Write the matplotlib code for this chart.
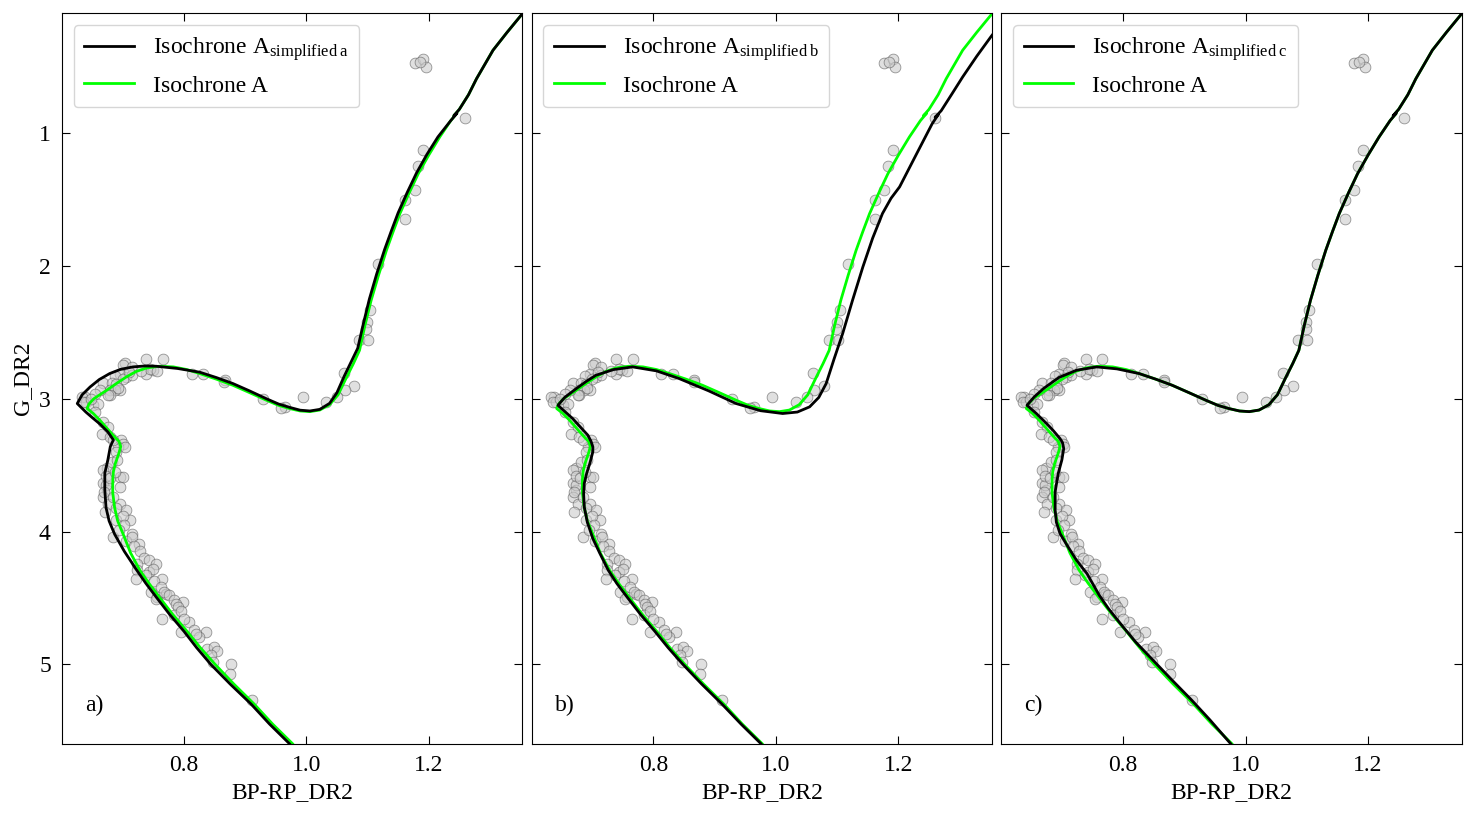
import matplotlib
matplotlib.use("Agg")
import matplotlib.pyplot as plt

plt.rcParams['font.family'] = ['Liberation Serif', 'DejaVu Serif']
plt.rcParams['mathtext.fontset'] = 'custom'
plt.rcParams['mathtext.rm'] = 'Liberation Serif'
plt.rcParams['mathtext.it'] = 'Liberation Serif:italic'
plt.rcParams['font.size'] = 17

# observed stars (BP-RP, G)
star_color = [
    1.177, 1.191, 1.195, 1.185, 1.259, 1.191, 1.183, 1.177, 1.162, 1.162,
    1.117, 1.104, 1.099, 1.098, 1.086, 1.101, 1.061, 1.078, 1.063, 1.050,
    1.033, 0.994, 0.965, 0.958, 0.929, 0.867, 0.866, 0.832, 0.813, 0.766,
    0.739, 0.739, 0.749, 0.704, 0.701, 0.715, 0.706, 0.715, 0.744, 0.730,
    0.757,
    0.696, 0.688, 0.700, 0.710, 0.668, 0.682, 0.690, 0.696, 0.679, 0.687,
    0.692, 0.679, 0.676, 0.663, 0.655, 0.638, 0.633, 0.641, 0.636, 0.652,
    0.660, 0.655, 0.648, 0.668, 0.676, 0.666, 0.679, 0.698, 0.701, 0.693,
    0.704, 0.685, 0.690,
    0.674, 0.668, 0.682, 0.691, 0.696, 0.701, 0.668, 0.674, 0.696, 0.668,
    0.676, 0.696, 0.671, 0.706, 0.690, 0.712, 0.685, 0.715, 0.673, 0.670,
    0.673, 0.680, 0.688, 0.685, 0.690, 0.700, 0.703, 0.694, 0.705, 0.716,
    0.727, 0.718, 0.728, 0.735,
    0.743, 0.754, 0.724, 0.743, 0.750, 0.724, 0.738, 0.722, 0.765, 0.752,
    0.746, 0.762, 0.771, 0.757, 0.754, 0.768, 0.776, 0.784, 0.798, 0.787,
    0.790, 0.765, 0.784, 0.795, 0.809, 0.800, 0.795, 0.817, 0.836, 0.825,
    0.820, 0.838, 0.849, 0.854, 0.844, 0.847, 0.877, 0.876, 0.912,
]
star_mag = [
    0.470, 0.444, 0.500, 0.462, 0.889, 1.123, 1.249, 1.429, 1.505, 1.643,
    1.982, 2.333, 2.421, 2.471, 2.559, 2.554, 2.805, 2.906, 2.936, 2.986,
    3.024, 2.986, 3.061, 3.066, 2.999, 2.861, 2.875, 2.810, 2.810, 2.697,
    2.697, 2.810, 2.785, 2.730, 2.748, 2.760, 2.836, 2.823, 2.773, 2.790,
    2.790,
    2.810, 2.830, 2.850, 2.800, 2.880, 2.882, 2.886, 2.936, 2.936, 2.936,
    2.920, 2.974, 2.974, 2.936, 2.961, 2.986, 2.990, 3.024, 3.024, 3.049,
    3.036, 3.099, 3.000, 3.175, 3.212, 3.262, 3.288, 3.312, 3.337, 3.363,
    3.363, 3.312, 3.400,
    3.525, 3.539, 3.475, 3.460, 3.589, 3.589, 3.638, 3.689, 3.663, 3.739,
    3.789, 3.789, 3.852, 3.840, 3.915, 3.915, 4.041, 4.016, 3.652, 3.700,
    3.580, 3.600, 3.550, 3.740, 3.820, 3.880, 3.950, 3.990, 4.070, 4.041,
    4.091, 4.110, 4.150, 4.200,
    4.217, 4.241, 4.241, 4.304, 4.280, 4.292, 4.330, 4.355, 4.355, 4.370,
    4.455, 4.417, 4.467, 4.492, 4.505, 4.455, 4.480, 4.518, 4.530, 4.543,
    4.568, 4.656, 4.630, 4.600, 4.681, 4.660, 4.756, 4.743, 4.756, 4.794,
    4.770, 4.882, 4.869, 4.900, 4.932, 4.982, 5.000, 5.075, 5.271,
]

# Isochrone A (same in every panel)
iso_color = [0.985, 0.978, 0.945, 0.915, 0.882, 0.851, 0.827, 0.805, 0.782,
             0.761, 0.743, 0.728, 0.713, 0.701, 0.692, 0.687, 0.684, 0.684,
             0.685, 0.688, 0.694, 0.697, 0.694, 0.687, 0.675, 0.663, 0.652,
             0.642, 0.645, 0.653, 0.674, 0.690, 0.706, 0.722, 0.739, 0.760,
             0.783, 0.805, 0.826, 0.853, 0.880, 0.908, 0.935, 0.955, 0.973,
             0.990, 1.006, 1.022, 1.038, 1.052, 1.066, 1.077, 1.087, 1.096,
             1.106, 1.118, 1.131, 1.142, 1.153, 1.168, 1.183, 1.200, 1.218,
             1.236, 1.246, 1.241, 1.250, 1.265, 1.278, 1.305, 1.328, 1.351,
             1.360]
iso_mag = [5.65, 5.60, 5.45, 5.30, 5.15, 5.00, 4.875, 4.75, 4.625,
           4.50, 4.39, 4.29, 4.16, 4.02, 3.92, 3.82, 3.71, 3.61,
           3.55, 3.49, 3.41, 3.36, 3.32, 3.288, 3.225, 3.162, 3.11,
           3.074, 3.04, 3.00, 2.936, 2.885, 2.836, 2.795, 2.768, 2.755,
           2.760, 2.780, 2.810, 2.852, 2.898, 2.955, 3.011, 3.05, 3.074,
           3.092, 3.097, 3.085, 3.045, 2.970, 2.836, 2.735, 2.635, 2.445,
           2.258, 2.07, 1.881, 1.74, 1.605, 1.45, 1.304, 1.165, 1.028,
           0.905, 0.850, 0.868, 0.820, 0.71, 0.59, 0.375, 0.24, 0.111,
           0.050]

# simplified isochrones
simp_a_color = [0.980, 0.973, 0.940, 0.910, 0.876, 0.844, 0.821, 0.800, 0.777,
                0.756, 0.738, 0.723, 0.703, 0.687, 0.678, 0.673, 0.671, 0.671,
                0.674, 0.676, 0.680, 0.685, 0.676, 0.663, 0.650, 0.640, 0.626,
                0.634, 0.647, 0.662, 0.679, 0.697, 0.717, 0.736, 0.755, 0.790,
                0.826, 0.853, 0.880, 0.908, 0.935, 0.955, 0.973, 0.990, 1.006,
                1.022, 1.038, 1.050, 1.062, 1.073, 1.084, 1.093, 1.103, 1.115,
                1.128, 1.139, 1.150, 1.165, 1.180, 1.197, 1.215, 1.236, 1.246,
                1.241, 1.250, 1.265, 1.278, 1.305, 1.328, 1.351, 1.360]
simp_a_mag = [5.65, 5.60, 5.45, 5.30, 5.15, 5.00, 4.875, 4.75, 4.625,
              4.50, 4.39, 4.29, 4.15, 4.02, 3.92, 3.82, 3.69, 3.56,
              3.50, 3.46, 3.36, 3.31, 3.25, 3.19, 3.14, 3.10, 3.036,
              2.97, 2.911, 2.855, 2.810, 2.778, 2.760, 2.753, 2.755, 2.772,
              2.800, 2.840, 2.885, 2.942, 3.000, 3.040, 3.065, 3.086, 3.092,
              3.080, 3.035, 2.955, 2.830, 2.725, 2.620, 2.440, 2.250, 2.060,
              1.875, 1.735, 1.600, 1.445, 1.300, 1.160, 1.028, 0.905, 0.850,
              0.868, 0.820, 0.710, 0.590, 0.375, 0.240, 0.111, 0.050]

simp_b_color = [0.983, 0.976, 0.943, 0.912, 0.879, 0.848, 0.824, 0.802, 0.779,
                0.758, 0.740, 0.726, 0.712, 0.701, 0.692, 0.687, 0.686, 0.687,
                0.691, 0.696, 0.701, 0.701, 0.698, 0.693, 0.680, 0.668, 0.655,
                0.644, 0.655, 0.672, 0.690, 0.706, 0.735, 0.766, 0.805, 0.842,
                0.890, 0.935, 0.975, 1.011, 1.035, 1.055, 1.070, 1.082, 1.095,
                1.109, 1.125, 1.142, 1.158, 1.174, 1.188, 1.202, 1.230, 1.255,
                1.265, 1.260, 1.270, 1.288, 1.305, 1.328, 1.351, 1.360]
simp_b_mag = [5.65, 5.60, 5.45, 5.30, 5.15, 5.00, 4.875, 4.75, 4.625,
              4.50, 4.39, 4.29, 4.16, 4.053, 3.93, 3.815, 3.72, 3.638,
              3.56, 3.488, 3.40, 3.363, 3.32, 3.275, 3.21, 3.149, 3.095,
              3.049, 2.99, 2.93, 2.87, 2.823, 2.780, 2.760, 2.790, 2.848,
              2.940, 3.036, 3.090, 3.111, 3.100, 3.061, 2.990, 2.886, 2.700,
              2.509, 2.260, 2.007, 1.790, 1.605, 1.490, 1.404, 1.153, 0.930,
              0.860, 0.880, 0.830, 0.700, 0.576, 0.420, 0.274, 0.220]

simp_c_color = [0.983, 0.976, 0.942, 0.912, 0.878, 0.849, 0.820, 0.795, 0.776,
                0.761, 0.741, 0.724, 0.708, 0.697, 0.691, 0.689, 0.689, 0.694,
                0.700, 0.703, 0.701, 0.697, 0.686, 0.675, 0.658, 0.643, 0.655,
                0.670, 0.695, 0.724, 0.757, 0.790, 0.826, 0.853, 0.880, 0.908,
                0.935, 0.955, 0.973, 0.990, 1.006, 1.022, 1.038, 1.052, 1.066,
                1.077, 1.087, 1.096, 1.106, 1.118, 1.131, 1.142, 1.153, 1.168,
                1.183, 1.200, 1.218, 1.236, 1.246, 1.241, 1.250, 1.265, 1.278,
                1.305, 1.328, 1.351, 1.360]
simp_c_mag = [5.65, 5.60, 5.42, 5.27, 5.11, 4.97, 4.83, 4.69, 4.58,
              4.48, 4.317, 4.217, 4.10, 4.016, 3.93, 3.840, 3.70, 3.563,
              3.46, 3.375, 3.33, 3.300, 3.24, 3.187, 3.11, 3.049, 2.985,
              2.923, 2.840, 2.785, 2.760, 2.775, 2.810, 2.852, 2.898, 2.955,
              3.011, 3.050, 3.074, 3.092, 3.097, 3.085, 3.045, 2.970, 2.836,
              2.735, 2.635, 2.445, 2.258, 2.070, 1.881, 1.740, 1.605, 1.450,
              1.304, 1.165, 1.028, 0.905, 0.850, 0.868, 0.820, 0.710, 0.590,
              0.375, 0.240, 0.111, 0.050]

panels = [
    ("a", simp_a_color, simp_a_mag),
    ("b", simp_b_color, simp_b_mag),
    ("c", simp_c_color, simp_c_mag),
]

fig, axes = plt.subplots(1, 3, figsize=(14.75, 8.17), dpi=100, sharey=True)
fig.subplots_adjust(left=0.042, right=0.991, top=0.984, bottom=0.0894, wspace=0.02)

for ax, (tag, sx, sy) in zip(axes, panels):
    ax.scatter(star_color, star_mag, s=60, facecolor='#cccccc', edgecolor='#555555',
               linewidth=0.6, alpha=0.6, zorder=1)
    ax.plot(iso_color, iso_mag, color='lime', lw=2, zorder=2, label='Isochrone A')
    ax.plot(sx, sy, color='black', lw=2, zorder=3,
            label=r'Isochrone A$_{\mathrm{simplified\;' + tag + '}}$')

    handles, labels = ax.get_legend_handles_labels()
    ax.legend(handles[::-1], labels[::-1], loc='upper left', handlelength=2.1,
              handletextpad=0.8, fontsize=17, borderpad=0.45, labelspacing=0.5)

    ax.text(0.05, 0.045, tag + ')', transform=ax.transAxes, fontsize=17)

    ax.set_xlim(0.601, 1.353)
    ax.set_ylim(5.6, 0.095)
    ax.set_xticks([0.8, 1.0, 1.2])
    ax.set_yticks([1, 2, 3, 4, 5])
    ax.tick_params(direction='in', top=True, right=True, length=6, pad=8, labelsize=17)
    ax.set_xlabel('BP-RP_DR2', fontsize=17, labelpad=4)

axes[0].set_ylabel('G_DR2', fontsize=17, labelpad=4)
for ax in axes[1:]:
    ax.tick_params(labelleft=False)

fig.savefig('out.png', dpi=100)
